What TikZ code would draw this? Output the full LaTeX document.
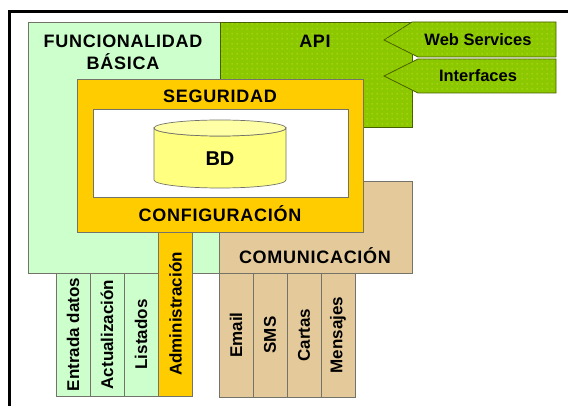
\documentclass[tikz,border=0pt]{standalone}
\usepackage{fontspec}
\setmainfont{Liberation Sans}
\usetikzlibrary{patterns.meta}

\definecolor{basegreen}{RGB}{204,255,204}
\definecolor{apigreen}{RGB}{140,200,0}
\definecolor{dotyellow}{RGB}{215,230,60}
\definecolor{secorange}{RGB}{255,204,0}
\definecolor{comtan}{RGB}{228,202,154}
\definecolor{dbyellow}{RGB}{255,255,128}
\definecolor{edgegray}{RGB}{115,115,105}
\definecolor{apiedge}{RGB}{70,95,0}

\tikzdeclarepattern{
  name=apidots,
  type=uncolored,
  bottom left={(0pt,0pt)},
  top right={(5pt,5pt)},
  tile size={(5pt,5pt)},
  code={\fill (2.5pt,2.5pt) circle (0.7pt);}
}

\tikzset{
  block/.style={draw=edgegray, line width=0.7pt},
  apifill/.style={draw=apiedge, line width=0.7pt, fill=apigreen,
    postaction={pattern=apidots, pattern color=dotyellow}},
  heading/.style={font=\bfseries\fontsize{18}{22}\selectfont\addfontfeature{LetterSpace=4},
    align=center},
  tag/.style={font=\bfseries\fontsize{16.5}{18}\selectfont},
  column/.style={block, rotate=90, minimum height=34pt, inner sep=0pt,
    font=\bfseries\fontsize{17}{18}\selectfont},
}

\begin{document}
\begin{tikzpicture}[x=1pt, y=-1pt]
	\useasboundingbox (0,0) rectangle (568,406);
	% back layers
	\draw[block, fill=basegreen] (28,22) rectangle (220,273);
	\draw[apifill] (220,22) rectangle (412,127);
	\draw[apifill] (412,22) -- (556,22) -- (556,57) -- (418,57) -- (384,40) -- cycle;
	\draw[apifill] (418,59) -- (556,59) -- (556,93) -- (418,93) -- (384,76) -- cycle;
	\draw[block, fill=comtan] (219,181) rectangle (412,273);
	\draw[block, fill=secorange] (77,79) rectangle (363,232);
	\draw[block, fill=white] (93,109) rectangle (348,197);
	% database
	\draw[block, fill=dbyellow] (154,128) -- (154,180)
		arc[start angle=180, end angle=360, x radius=66pt, y radius=8pt]
		-- (286,128) arc[start angle=0, end angle=-180, x radius=66pt, y radius=8pt] -- cycle;
	\draw[block, fill=dbyellow!70!white] (220,128) ellipse[x radius=66pt, y radius=8pt];

	\node[heading] (func) at (123,52) {FUNCIONALIDAD\\BÁSICA};
	\node[heading] (api) at (315,41) {API};
	\node[tag] (webserv) at (478,40) {Web Services};
	\node[tag] (interf) at (478,76) {Interfaces};
	\node[heading] (segur) at (220,96) {SEGURIDAD};
	\node[heading, font=\bfseries\fontsize{20}{22}\selectfont] (bd) at (220,159) {BD};
	\node[heading] (config) at (220,214) {CONFIGURACIÓN};
	\node[heading] (comun) at (315,256) {COMUNICACIÓN};

	\node[column, fill=basegreen, minimum width=123pt] (entrada) at (73,334.5) {Entrada datos};
	\node[column, fill=basegreen, minimum width=123pt] (actual) at (107,334.5) {Actualización};
	\node[column, fill=basegreen, minimum width=123pt] (listados) at (141,334.5) {Listados};
	\node[column, fill=secorange, minimum width=164pt] (admin) at (175.5,314) {Administración};

	\node[column, fill=comtan, minimum width=124pt] (email) at (236,335) {Email};
	\node[column, fill=comtan, minimum width=124pt] (sms) at (270,335) {SMS};
	\node[column, fill=comtan, minimum width=124pt] (cartas) at (304,335) {Cartas};
	\node[column, fill=comtan, minimum width=124pt] (mensajes) at (338,335) {Mensajes};

	% frame
	\draw[line width=3pt] (9.5,406) -- (9.5,12) -- (568,12);
\end{tikzpicture}
\end{document}
